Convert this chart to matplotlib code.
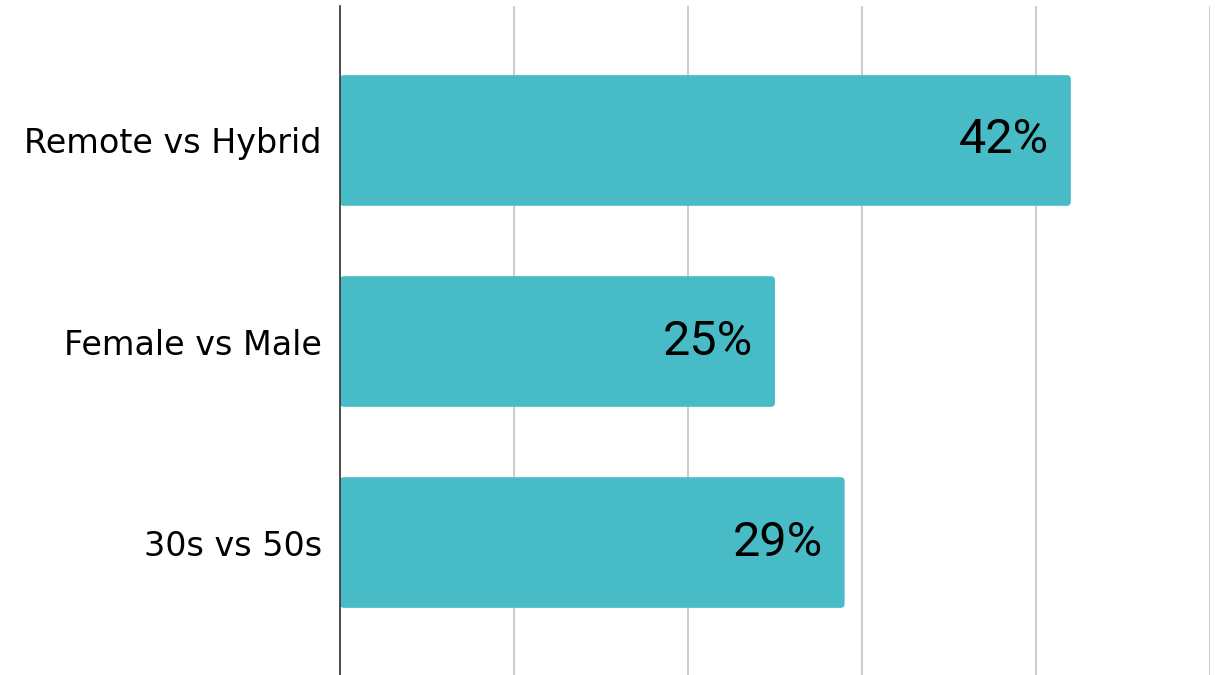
import matplotlib
matplotlib.use("Agg")
import matplotlib.pyplot as plt
from matplotlib.patches import FancyBboxPatch

categories = ["Remote vs Hybrid", "Female vs Male", "30s vs 50s"]
values = [42, 25, 29]
value_labels = ["42%", "25%", "29%"]
x_ticks = [0, 10, 20, 30, 40, 50]

BAR_COLOR = "#48BCC6"

fig = plt.figure(figsize=(12.15, 6.75), dpi=100)
ax = fig.add_axes([340 / 1215, 0.0, 870 / 1215, 1 - 6 / 675])

ypos = list(range(len(categories)))
bars = ax.barh(ypos, values, height=0.65, color=BAR_COLOR, zorder=2)

ax.set_xlim(0, 50)
ax.set_ylim(2.659, -0.669)

# swap the square bars for ones with slightly rounded corners
px_x = 50 / 870
px_y = (2.659 + 0.669) / 669
for b in bars:
    b.set_visible(False)
    x0, y0 = b.get_x(), b.get_y()
    w, h = b.get_width(), b.get_height()
    r = 4 * px_x
    patch = FancyBboxPatch((x0, y0), w, h,
                           boxstyle=f"round,pad=0,rounding_size={r}",
                           mutation_aspect=px_y / px_x,
                           facecolor=BAR_COLOR, edgecolor="none", zorder=2)
    ax.add_patch(patch)

for y, v, lab in zip(ypos, values, value_labels):
    ax.text(v - 22 * px_x, y, lab, ha="right", va="center",
            fontsize=35, family="Roboto", color="black", zorder=3)

ax.set_xticks(x_ticks)
ax.set_xticklabels([])
ax.tick_params(axis="x", length=0)
ax.grid(axis="x", color="#cccccc", linewidth=1.4, zorder=0)
ax.set_axisbelow(True)

ax.set_yticks(ypos)
ax.set_yticklabels(categories, fontsize=24, family="DejaVu Sans", color="black")
ax.tick_params(axis="y", length=0, pad=13)

for s in ["top", "right", "bottom"]:
    ax.spines[s].set_visible(False)
ax.spines["left"].set_color("#333333")
ax.spines["left"].set_linewidth(1.2)

fig.savefig("out.png", dpi=100, facecolor="white")
